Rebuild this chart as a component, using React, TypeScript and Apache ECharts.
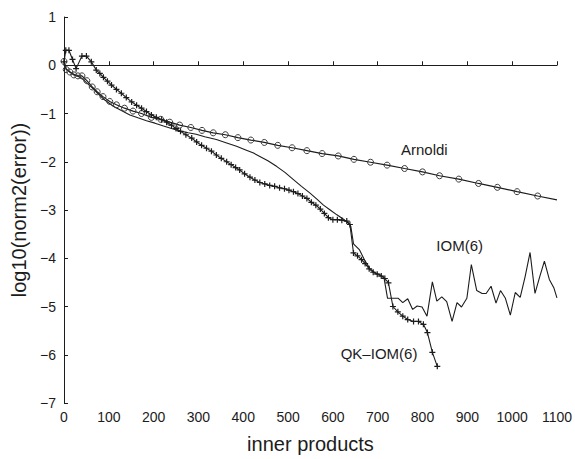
import React, { useEffect, useRef } from "react";
import * as echarts from "echarts";

// ---- data ----
const arnoldiX = [0, 5, 13, 22, 31, 40, 51, 63, 74, 87, 102, 117, 135, 154, 173, 195, 216, 236, 258, 283, 308, 333, 360, 388, 417, 447, 477, 509, 542, 576, 612, 647, 684, 721, 760, 800, 838, 881, 925, 967, 1011, 1057, 1100];
const arnoldiY = [0.08, -0.09, -0.14, -0.2, -0.22, -0.22, -0.32, -0.45, -0.55, -0.65, -0.75, -0.82, -0.89, -0.95, -1.0, -1.08, -1.12, -1.18, -1.24, -1.29, -1.35, -1.4, -1.44, -1.5, -1.55, -1.6, -1.66, -1.71, -1.77, -1.83, -1.88, -1.95, -2.01, -2.07, -2.14, -2.21, -2.29, -2.36, -2.45, -2.53, -2.62, -2.71, -2.79];

const iomX = [0, 5, 15, 25, 40, 50, 63, 75, 91, 110, 128, 147, 165, 184, 203, 222, 240, 258, 277, 295, 314, 340, 363, 385, 407, 423, 437, 455, 475, 493, 512, 530, 549, 565, 579, 594, 609, 622, 634, 640, 646, 659, 672, 683, 694, 705, 714, 722, 735, 746, 756, 767, 778, 788, 799, 810, 822, 832, 843, 854, 866, 877, 887, 899, 909, 921, 933, 942, 953, 964, 974, 985, 996, 1007, 1018, 1029, 1040, 1051, 1061, 1072, 1083, 1093, 1100];
const iomY = [0.07, -0.08, -0.15, -0.2, -0.27, -0.36, -0.47, -0.58, -0.72, -0.85, -0.94, -1.03, -1.09, -1.15, -1.2, -1.26, -1.31, -1.36, -1.4, -1.43, -1.48, -1.54, -1.61, -1.68, -1.76, -1.82, -1.89, -1.98, -2.1, -2.22, -2.37, -2.51, -2.65, -2.78, -2.9, -3.0, -3.1, -3.18, -3.27, -3.34, -3.7, -3.82, -4.06, -4.22, -4.3, -4.34, -4.4, -4.83, -4.83, -4.83, -4.92, -4.84, -5.06, -4.99, -5.01, -5.2, -4.49, -4.89, -4.8, -4.9, -5.31, -4.92, -5.01, -4.83, -4.13, -4.67, -4.73, -4.73, -4.58, -4.93, -4.67, -4.83, -5.18, -4.71, -4.81, -4.38, -3.88, -4.73, -4.4, -4.06, -4.44, -4.61, -4.82];

const qkX = [0, 4, 11, 19, 27, 40, 50, 61, 72, 80, 88, 97, 106, 117, 128, 139, 151, 162, 173, 184, 195, 206, 218, 229, 240, 250, 260, 272, 285, 296, 307, 318, 329, 340, 351, 363, 373, 383, 392, 403, 415, 426, 437, 448, 459, 470, 481, 492, 502, 512, 522, 532, 542, 552, 562, 572, 581, 590, 600, 610, 620, 631, 638, 646, 655, 664, 672, 681, 690, 699, 708, 716, 724, 734, 745, 756, 767, 780, 791, 802, 811, 822, 833];
const qkY = [0.07, 0.31, 0.31, 0.12, -0.07, 0.19, 0.19, 0.07, -0.1, -0.17, -0.25, -0.33, -0.41, -0.5, -0.58, -0.67, -0.76, -0.83, -0.89, -0.96, -1.03, -1.08, -1.13, -1.18, -1.24, -1.31, -1.37, -1.44, -1.51, -1.59, -1.66, -1.72, -1.78, -1.86, -1.93, -2.0, -2.06, -2.12, -2.17, -2.25, -2.32, -2.38, -2.43, -2.46, -2.49, -2.51, -2.54, -2.56, -2.59, -2.62, -2.66, -2.71, -2.76, -2.84, -2.9, -2.98, -3.07, -3.16, -3.2, -3.2, -3.21, -3.23, -3.3, -3.89, -3.95, -4.03, -4.11, -4.22, -4.29, -4.33, -4.37, -4.42, -4.51, -5.0, -5.11, -5.2, -5.27, -5.31, -5.31, -5.37, -5.54, -5.95, -6.24];

const seriesLabels = ["Arnoldi", "IOM(6)", "QK\u2013IOM(6)"];
const labelPositions: [number, number][] = [[804, -1.74], [883, -3.73], [703, -5.97]];

const xTicks = { min: 0, max: 1100, interval: 100 };
const yTicks = { min: -7, max: 1, interval: 1 };

const FONT = "'Liberation Sans', Arial, Helvetica, sans-serif";
const INK = "#1c1c1c";

export default function App() {
  const ref = useRef<HTMLDivElement>(null);
  useEffect(() => {
    if (!ref.current) return;
    const chart = echarts.init(ref.current, undefined, { renderer: "svg" });
    const zip = (xs: number[], ys: number[]) => xs.map((x, i) => [x, ys[i]]);
    const arnoldiData: any[] = zip(arnoldiX, arnoldiY);
    arnoldiData[arnoldiData.length - 1] = { value: arnoldiData[arnoldiData.length - 1], symbol: "none" };

    const labelPoint = (i: number) => ({
      coord: labelPositions[i],
      symbol: "circle",
      symbolSize: 1,
      itemStyle: { color: "rgba(0,0,0,0)" },
      label: {
        show: true,
        position: "inside",
        formatter: seriesLabels[i],
        fontFamily: FONT,
        fontSize: 15,
        color: INK,
      },
    });

    const axisCommon = {
      axisLine: { show: true, lineStyle: { color: INK, width: 1 } },
      axisTick: { show: true, inside: true, length: 4, lineStyle: { color: INK } },
      splitLine: { show: false },
      nameTextStyle: { fontFamily: FONT, fontSize: 20, color: INK },
    };

    chart.setOption({
      animation: false,
      backgroundColor: "#ffffff",
      grid: { left: 64, right: 18, top: 17, bottom: 55, containLabel: false },
      xAxis: {
        type: "value",
        ...xTicks,
        ...axisCommon,
        name: "inner products",
        nameLocation: "middle",
        nameGap: 31,
        axisLabel: {
          fontFamily: FONT,
          fontSize: 14,
          color: INK,
          margin: 7,
          formatter: (v: number) => String(v),
        },
      },
      yAxis: {
        type: "value",
        ...yTicks,
        ...axisCommon,
        name: "log10(norm2(error))",
        nameLocation: "middle",
        nameGap: 30,
        axisLabel: {
          fontFamily: FONT,
          fontSize: 14,
          color: INK,
          margin: 8,
          formatter: (v: number) => String(v).replace("-", "\u2212"),
        },
      },
      series: [
        {
          name: seriesLabels[0],
          type: "line",
          data: arnoldiData,
          symbol: "circle",
          symbolSize: 6,
          showAllSymbol: true,
          lineStyle: { color: INK, width: 1.2 },
          itemStyle: { color: "rgba(0,0,0,0)", borderColor: "#3a3a3a", borderWidth: 1 },
          markPoint: { data: [labelPoint(0)] },
          z: 3,
        },
        {
          name: seriesLabels[1],
          type: "line",
          data: zip(iomX, iomY),
          symbol: "none",
          lineStyle: { color: INK, width: 1.1 },
          markPoint: { data: [labelPoint(1)] },
          z: 2,
        },
        {
          name: seriesLabels[2],
          type: "line",
          data: zip(qkX, qkY),
          symbol: "path://M4,0h2v4h4v2h-4v4h-2v-4h-4v-2h4z",
          symbolSize: 6,
          showAllSymbol: true,
          lineStyle: { color: INK, width: 1.1 },
          itemStyle: { color: INK, borderWidth: 0 },
          markPoint: { data: [labelPoint(2)] },
          z: 4,
        },
      ],
    });
    return () => chart.dispose();
  }, []);
  return (
    <div
      ref={ref}
      style={{ position: "fixed", left: 0, top: 0, width: 575, height: 459 }}
    />
  );
}
